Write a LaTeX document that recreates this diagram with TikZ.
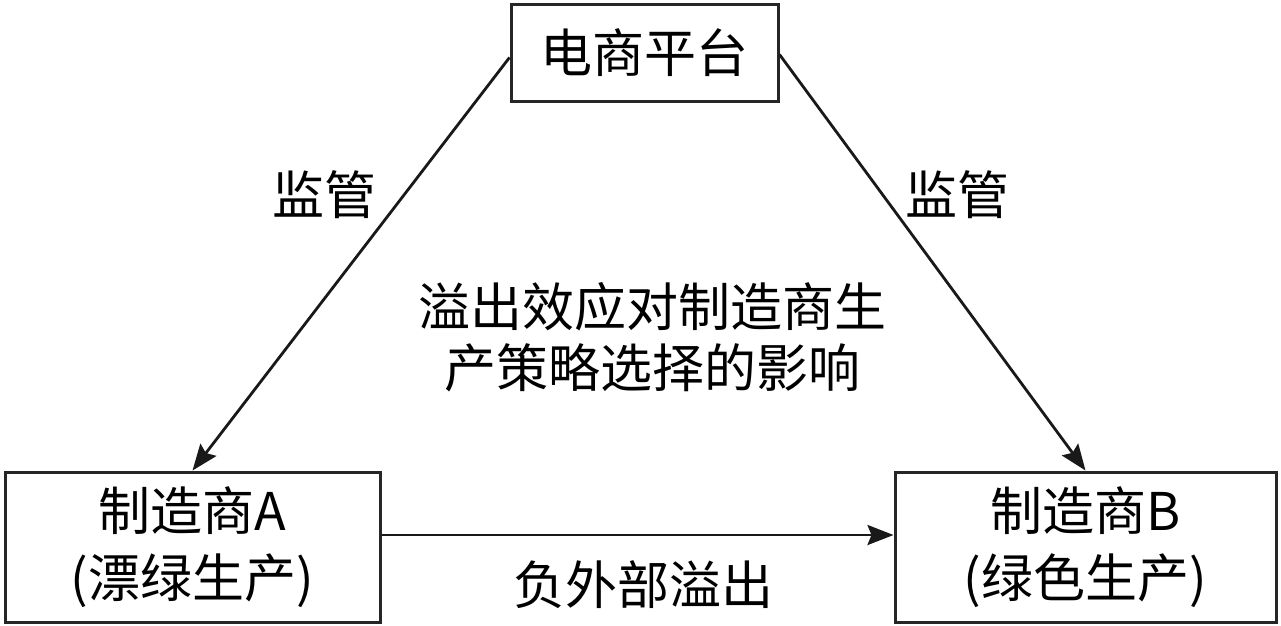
\documentclass[tikz,border=0pt]{standalone}
\usepackage{fontspec}
\setmainfont{Noto Sans CJK SC}
\usetikzlibrary{arrows.meta}
\begin{document}
\begin{tikzpicture}[x=1pt,y=-1pt,
  box/.style={draw=black!85, line width=3pt, inner sep=0pt, align=center, fill=white, font=\fontsize{52}{67}\selectfont},
  lbl/.style={inner sep=0pt, align=center, font=\fontsize{52}{61}\selectfont},
  conn/.style={line width=2.8pt, draw=black!90, -{Stealth[length=26pt,width=20pt,inset=4pt]}}]
\useasboundingbox (0,0) rectangle (1281,625);
\node[box, minimum width=267pt, minimum height=97pt] (top) at (644.5,52.5) {电商平台};
\node[box, minimum width=375pt, minimum height=150pt] (A) at (192.5,547) {制造商A\\(漂绿生产)};
\node[box, minimum width=381pt, minimum height=150pt] (B) at (1085.5,547) {制造商B\\(绿色生产)};
\draw[conn] ([yshift=-5pt]top.west) -- (A.north);
\draw[conn] ([yshift=-2pt]top.east) -- (B.north);
\draw[conn] ([yshift=12pt]A.east) -- ([yshift=12pt]B.west);
\node[lbl] (l1) at (324,195) {监管};
\node[lbl] (l2) at (957,195) {监管};
\node[lbl] (c) at (652,337) {溢出效应对制造商生\\产策略选择的影响};
\node[lbl] (n) at (643,585) {负外部溢出};
\end{tikzpicture}
\end{document}
